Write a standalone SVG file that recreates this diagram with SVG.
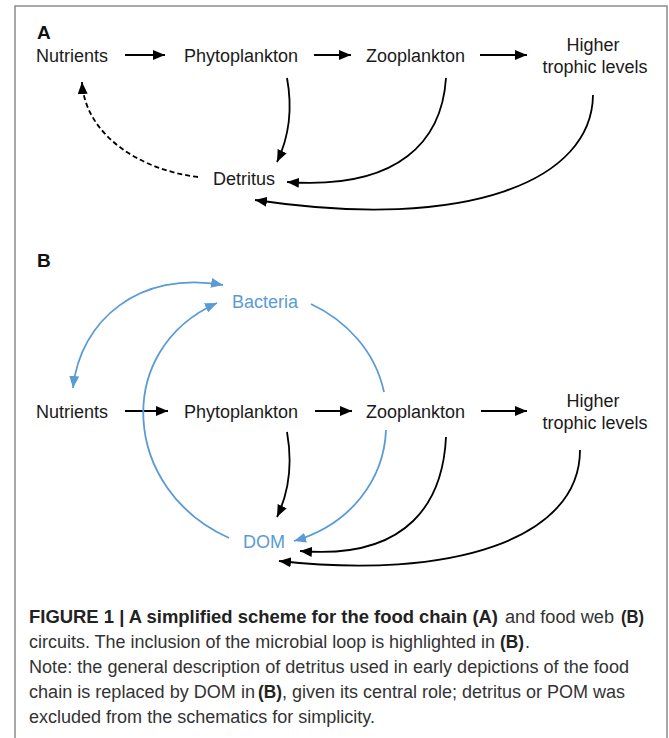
<svg xmlns="http://www.w3.org/2000/svg" width="669" height="738" viewBox="0 0 669 738">
<defs>
<style>
.lbl{font-family:"Liberation Sans",Arial,sans-serif;font-size:18px;fill:#1a1a1a}
.blue{fill:#5b9bd5}
.panel{font-family:"Liberation Sans",Arial,sans-serif;font-size:19px;font-weight:bold;fill:#111}
.cap{font-family:"Liberation Sans",Arial,sans-serif;font-size:18px;fill:#333}
.b{font-weight:bold;fill:#222}
.k{fill:none;stroke:#000;stroke-width:1.8}
.bl{fill:none;stroke:#5b9bd5;stroke-width:1.8}
</style>
<marker id="ak" viewBox="0 0 12 10" markerWidth="12" markerHeight="10" refX="12" refY="5" orient="auto" markerUnits="userSpaceOnUse"><path d="M0,0 L12,5 L0,10 z" fill="#000"/></marker>
<marker id="ab" viewBox="0 0 12 10" markerWidth="12" markerHeight="10" refX="12" refY="5" orient="auto-start-reverse" markerUnits="userSpaceOnUse"><path d="M0,0 L12,5 L0,10 z" fill="#5b9bd5"/></marker>
</defs>
<rect x="0" y="0" width="669" height="738" fill="#fff"/>
<rect id="frame" x="15" y="6" width="652" height="745" fill="none" stroke="#8a8a8a" stroke-width="1.5"/>

<g id="panelA">
<text class="panel" x="37" y="39">A</text>
<g id="a-nutrients"><text class="lbl" x="36" y="62">Nutrients</text></g>
<g id="a-phyto"><text class="lbl" x="184" y="62">Phytoplankton</text></g>
<g id="a-zoo"><text class="lbl" x="366" y="62">Zooplankton</text></g>
<g id="a-higher"><text class="lbl" text-anchor="middle" x="593" y="51">Higher</text><text class="lbl" text-anchor="middle" x="595" y="73">trophic levels</text></g>
<g id="a-detritus"><text class="lbl" x="213" y="185">Detritus</text></g>
</g>

<g id="connectorsA">
<line class="k" x1="125" y1="55" x2="165" y2="55" marker-end="url(#ak)"/>
<line class="k" x1="314" y1="55" x2="351" y2="55" marker-end="url(#ak)"/>
<line class="k" x1="480" y1="55" x2="527" y2="55" marker-end="url(#ak)"/>
<path class="k" d="M287,78 C292,105 290,135 277,162" marker-end="url(#ak)"/>
<path class="k" d="M446,78 C442,140 400,190 287,182" marker-end="url(#ak)"/>
<path class="k" d="M593,95 C592,180 470,232 255,200" marker-end="url(#ak)"/>
<path class="k" d="M198,177 C140,170 85,135 82,82" stroke-dasharray="5,3" marker-end="url(#ak)"/>
</g>

<g id="panelB">
<text class="panel" x="37" y="267">B</text>
<g id="b-bacteria"><text class="lbl blue" x="232" y="308">Bacteria</text></g>
<g id="b-nutrients"><text class="lbl" x="36" y="418">Nutrients</text></g>
<g id="b-phyto"><text class="lbl" x="184" y="418">Phytoplankton</text></g>
<g id="b-zoo"><text class="lbl" x="366" y="418">Zooplankton</text></g>
<g id="b-higher"><text class="lbl" text-anchor="middle" x="593" y="407">Higher</text><text class="lbl" text-anchor="middle" x="595" y="429">trophic levels</text></g>
<g id="b-dom"><text class="lbl blue" x="243" y="548">DOM</text></g>
</g>

<g id="connectorsB">
<line class="k" x1="125" y1="411" x2="168" y2="411" marker-end="url(#ak)"/>
<line class="k" x1="315" y1="411" x2="352" y2="411" marker-end="url(#ak)"/>
<line class="k" x1="481" y1="411" x2="527" y2="411" marker-end="url(#ak)"/>
<path class="bl" d="M73,388 C80,320 140,270 223,285" marker-start="url(#ab)" marker-end="url(#ab)"/>
<path class="bl" d="M229,538 C122,490 112,350 217,303" marker-end="url(#ab)"/>
<path class="bl" d="M311,304 C345,320 375,350 384,392"/>
<path class="bl" d="M386,430 C384,480 350,525 294,541" marker-end="url(#ab)"/>
<path class="k" d="M287,432 C292,460 290,490 277,517" marker-end="url(#ak)"/>
<path class="k" d="M446,437 C443,500 410,560 300,551" marker-end="url(#ak)"/>
<path class="k" d="M580,450 C580,540 450,580 279,561" marker-end="url(#ak)"/>
</g>

<g id="caption">
<text class="cap b" x="29" y="623" textLength="469" lengthAdjust="spacingAndGlyphs">FIGURE 1 | A simplified scheme for the food chain (A)</text>
<text class="cap" x="505" y="623" textLength="109" lengthAdjust="spacingAndGlyphs">and food web</text>
<text class="cap b" x="621" y="623" textLength="23" lengthAdjust="spacingAndGlyphs">(B)</text>
<text class="cap" x="29" y="648" textLength="466" lengthAdjust="spacingAndGlyphs">circuits. The inclusion of the microbial loop is highlighted in</text>
<text class="cap b" x="500" y="648" textLength="24" lengthAdjust="spacingAndGlyphs">(B)</text>
<text class="cap" x="525" y="648">.</text>
<text class="cap" x="29" y="673" textLength="600" lengthAdjust="spacingAndGlyphs">Note: the general description of detritus used in early depictions of the food</text>
<text class="cap" x="29" y="698" textLength="226" lengthAdjust="spacingAndGlyphs">chain is replaced by DOM in</text>
<text class="cap b" x="258" y="698" textLength="24" lengthAdjust="spacingAndGlyphs">(B)</text>
<text class="cap" x="282" y="698" textLength="343" lengthAdjust="spacingAndGlyphs">, given its central role; detritus or POM was</text>
<text class="cap" x="29" y="723" textLength="346" lengthAdjust="spacingAndGlyphs">excluded from the schematics for simplicity.</text>
</g>
</svg>
